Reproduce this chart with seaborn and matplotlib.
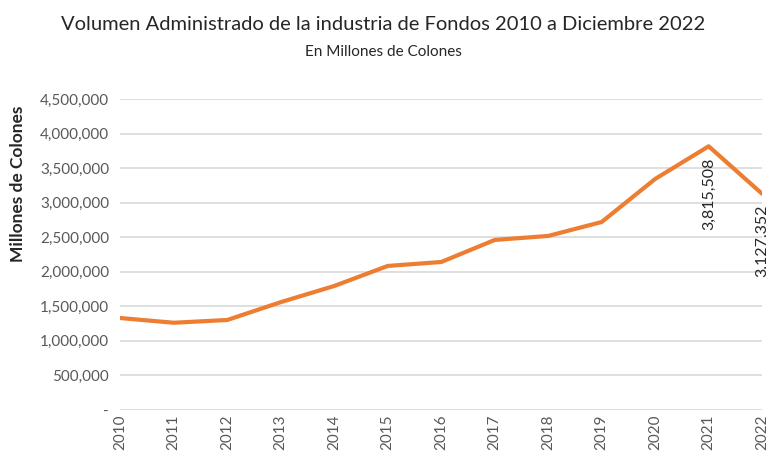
import matplotlib
matplotlib.use("Agg")
import matplotlib.pyplot as plt
import matplotlib.ticker as mticker
import seaborn as sns
import pandas as pd

# Volumen administrado por año (millones de colones)
years = [2010, 2011, 2012, 2013, 2014, 2015, 2016, 2017, 2018, 2019, 2020, 2021, 2022]
volumen = [1330000, 1262000, 1302000, 1560000, 1794000, 2084000, 2141000,
           2460000, 2518000, 2720000, 3343000, 3815508, 3127352]
labeled_years = [2021, 2022]

df = pd.DataFrame({"year": years, "volumen": volumen})

sns.set_style("white")
plt.rcParams["font.family"] = ["Lato", "DejaVu Sans"]

fig = plt.figure(figsize=(7.66, 4.54), dpi=100)
ax = fig.add_axes([0.157, 0.097, 0.838, 0.685])

sns.lineplot(data=df, x="year", y="volumen", color="#ED7D31", linewidth=3, ax=ax)

# etiquetas de datos rotadas bajo los puntos
for yr, v in zip(years, volumen):
    if yr in labeled_years:
        ax.annotate(f"{v:,}", (yr, v), xytext=(0, -8), textcoords="offset points",
                    rotation=90, ha="center", va="top", fontsize=11.5, color="#262626")

ax.set_xlim(2010, 2022)
ax.set_ylim(0, 4500000)
ax.set_yticks(range(0, 4500001, 500000))
ax.yaxis.set_major_formatter(mticker.FuncFormatter(lambda v, p: "-" if v == 0 else f"{int(v):,}"))
ax.set_xticks(years)
ax.set_xticklabels([str(y) for y in years], rotation=90)
ax.tick_params(axis="both", length=0, labelsize=11, colors="#595959")
ax.tick_params(axis="y", pad=8)
ax.tick_params(axis="x", pad=3)
ax.grid(axis="y", color="#d9d9d9", linewidth=1.2)
for s in ax.spines.values():
    s.set_visible(False)
ax.set_xlabel("")
ax.set_ylabel("")

fig.text(0.5, 0.945, "Volumen Administrado de la industria de Fondos 2010 a Diciembre 2022",
         ha="center", va="center", fontsize=14.5, color="#262626")
fig.text(0.5, 0.885, "En Millones de Colones", ha="center", va="center",
         fontsize=11, color="#262626")
fig.text(0.024, 0.595, "Millones de Colones", rotation=90, ha="center", va="center",
         fontsize=12.5, fontweight="bold", color="#262626")

fig.savefig("out.png", dpi=100)
